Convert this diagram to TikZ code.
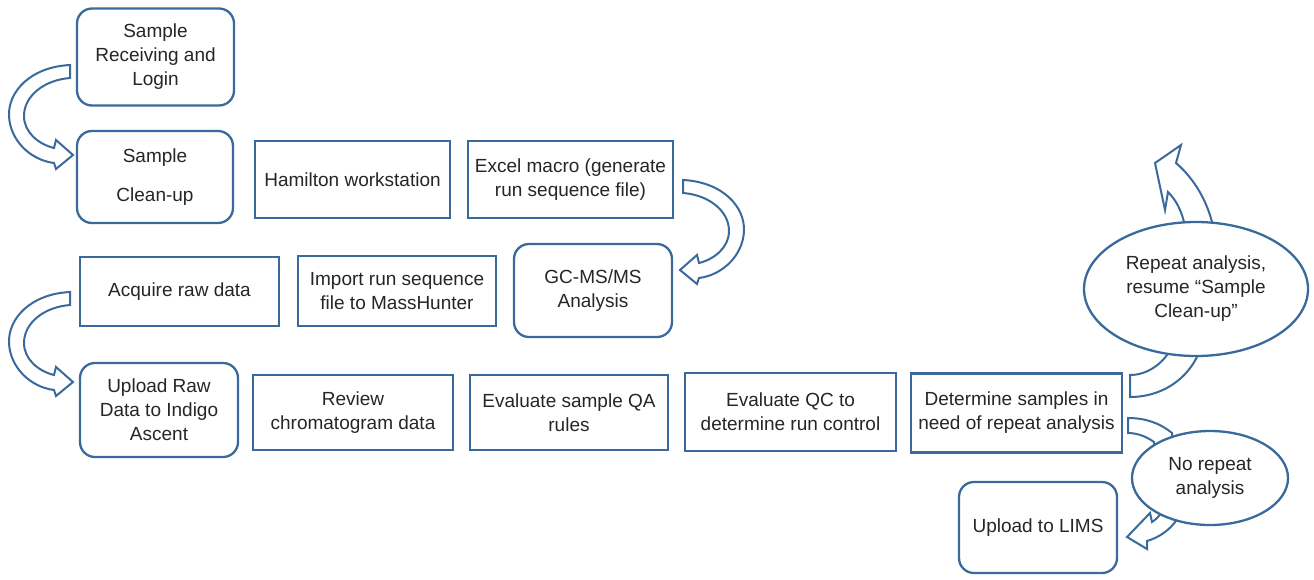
\documentclass[tikz,border=0pt]{standalone}
\usepackage{fontspec}
\setmainfont{Liberation Sans}
\usetikzlibrary{shapes.geometric}
\definecolor{myblue}{RGB}{58,106,156}
\definecolor{txt}{RGB}{38,38,38}
\tikzset{
  box/.style={draw=myblue, line width=2.3pt, fill=white, align=center, text=txt,
    inner sep=0pt, font=\fontsize{19}{24}\selectfont},
  rbox/.style={box, rounded corners=15pt},
  ebox/.style={box, ellipse},
  barrow/.style={draw=myblue, line width=2pt, fill=white, line join=miter},
  uarr/.pic={
    \draw[barrow] (0,0) .. controls (-40,2) and (-62,27) .. (-61,51)
      .. controls (-60,75) and (-40,95) .. (-16,98) -- (-14,104) -- (3,90)
      -- (-14,75) -- (-16,83) .. controls (-32,79) and (-46,67) .. (-46,51)
      .. controls (-46,31) and (-26,15) .. (0,13) -- cycle;
  }
}
\begin{document}
\begin{tikzpicture}[x=1pt,y=-1pt]
\useasboundingbox (0,0) rectangle (1314,579);

% boxes
\node[rbox, minimum width=157pt, minimum height=97pt] (b1) at (155.5,57) {Sample\\Receiving and\\Login};
\node[rbox, minimum width=156pt, minimum height=92pt] (b2) at (155,177) {Sample\\[15pt]Clean-up};
\node[box, minimum width=195pt, minimum height=77pt] (b3) at (352.5,179.5) {Hamilton workstation};
\node[box, minimum width=205pt, minimum height=77pt] (b4) at (570.5,179.5) {Excel macro (generate\\run sequence file)};
\node[rbox, minimum width=158pt, minimum height=93pt] (b5) at (593,290.5) {GC-MS/MS\\Analysis};
\node[box, minimum width=199pt, minimum height=69pt] (b6) at (179.5,291.5) {Acquire raw data};
\node[box, minimum width=198pt, minimum height=70pt] (b7) at (397,291) {Import run sequence\\file to MassHunter};
\node[rbox, minimum width=158pt, minimum height=94pt] (b8) at (159,410) {Upload Raw\\Data to Indigo\\Ascent};
\node[box, minimum width=200pt, minimum height=75pt] (b9) at (353,412.5) {Review\\chromatogram data};
\node[box, minimum width=198pt, minimum height=75pt] (b10) at (569,412.5) {Evaluate sample QA\\rules};
\node[box, minimum width=211pt, minimum height=78pt] (b11) at (790.5,412) {Evaluate QC to\\determine run control};
\node[box, minimum width=211pt, minimum height=79pt] (b12) at (1016.5,413) {Determine samples in\\need of repeat analysis};
\node[rbox, minimum width=158pt, minimum height=91pt] (b13) at (1038,527.5) {Upload to LIMS};

% curved block arrows
\pic at (70,65) {uarr};
\pic[xscale=-1] at (683,180) {uarr};
\pic at (70,292) {uarr};

% arrow to "repeat analysis"
\draw[barrow] (1130,375) -- (1130,397) .. controls (1165,397) and (1195,375) .. (1203,340)
  -- (1212,222) .. controls (1205,195) and (1190,175) .. (1176,163) -- (1181,145)
  -- (1155,163) -- (1165,210) -- (1168,192) .. controls (1176,200) and (1181,210) .. (1184,222)
  -- (1175,340) .. controls (1168,360) and (1150,375) .. (1130,375) -- cycle;

% arrow to "upload to LIMS"
\draw[barrow] (1128,418) .. controls (1145,418) and (1160,423) .. (1172,433)
  -- (1178,518) .. controls (1170,530) and (1160,537) .. (1147,541) -- (1147,549)
  -- (1127,537) -- (1150,513) -- (1152,522) .. controls (1155,520) and (1160,516) .. (1162,511)
  -- (1154,442) .. controls (1147,437) and (1138,433) .. (1128,433) -- cycle;

% ellipses
\node[ebox, minimum width=224pt, minimum height=134pt] (e1) at (1196,289) {Repeat analysis,\\resume “Sample\\Clean-up”};
\node[ebox, minimum width=156pt, minimum height=94pt] (e2) at (1210,478) {No repeat\\analysis};
\end{tikzpicture}
\end{document}
